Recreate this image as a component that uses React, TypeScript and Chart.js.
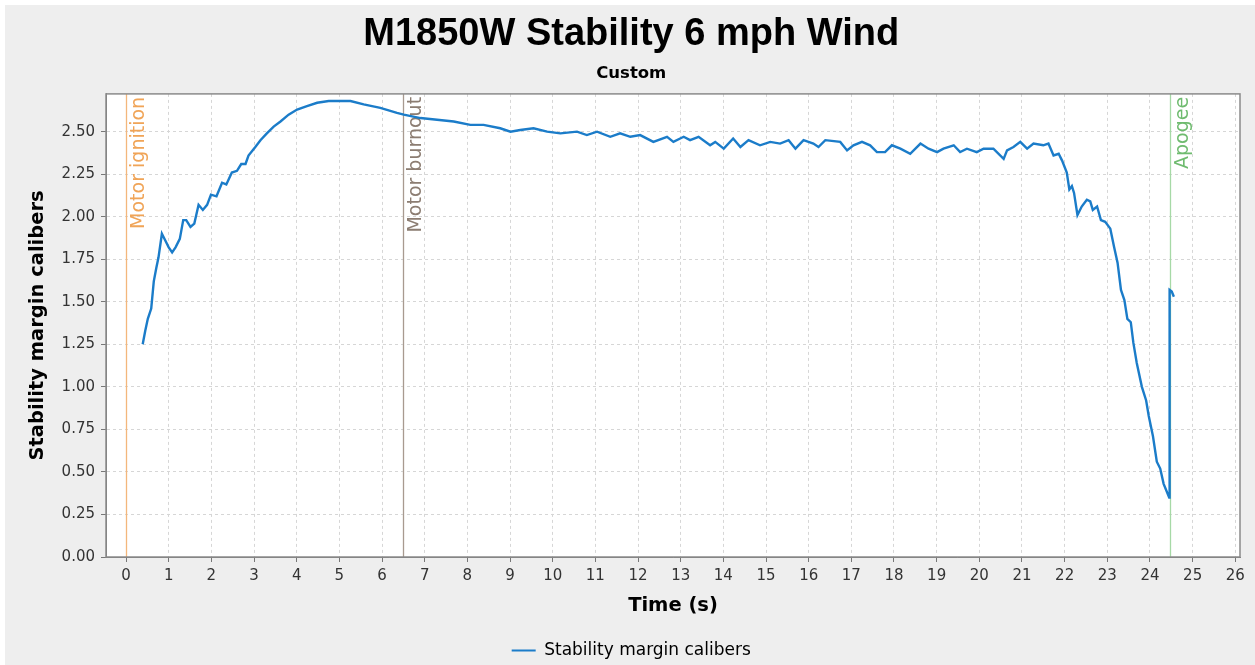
import { useEffect, useRef } from "react";
import { Chart, registerables } from "chart.js";

Chart.register(...registerables);

const chartTitle = "M1850W Stability 6 mph Wind";
const chartSubtitle = "Custom";
const seriesLabel = "Stability margin calibers";
const xAxisTitle = "Time (s)";
const yAxisTitle = "Stability margin calibers";

const timeS = [
  0.39, 0.45, 0.51, 0.59, 0.65, 0.71, 0.76, 0.84, 0.92, 1.0, 1.08, 1.16, 1.26, 1.34, 1.41, 1.51, 1.6, 1.7, 1.8, 1.9,
  1.99, 2.12, 2.25, 2.35, 2.48, 2.6, 2.7, 2.8, 2.87, 3.03, 3.15, 3.3, 3.46, 3.62, 3.81, 4.01, 4.24, 4.48, 4.75, 5.0,
  5.26, 5.57, 5.96, 6.35, 6.51, 6.9, 7.29, 7.68, 8.07, 8.38, 8.77, 9.01, 9.24, 9.55, 9.87, 10.18, 10.57, 10.8, 11.04,
  11.35, 11.58, 11.82, 12.05, 12.36, 12.68, 12.83, 13.07, 13.22, 13.42, 13.69, 13.81, 14.01, 14.23, 14.4, 14.59,
  14.86, 15.1, 15.33, 15.53, 15.69, 15.88, 16.11, 16.23, 16.39, 16.74, 16.9, 17.05, 17.25, 17.44, 17.6, 17.79, 17.95,
  18.15, 18.38, 18.62, 18.81, 19.01, 19.16, 19.4, 19.55, 19.71, 19.94, 20.1, 20.33, 20.57, 20.65, 20.8, 20.96, 21.12,
  21.27, 21.5, 21.62, 21.74, 21.86, 21.94, 22.05, 22.11, 22.17, 22.22, 22.3, 22.4, 22.52, 22.6, 22.66, 22.76, 22.85,
  22.95, 23.07, 23.16, 23.24, 23.32, 23.4, 23.47, 23.55, 23.61, 23.69, 23.81, 23.91, 23.97, 24.07, 24.16, 24.24,
  24.32, 24.45, 24.46, 24.51, 24.56,
];

const stability = [
  1.25, 1.33, 1.4, 1.46, 1.62, 1.7, 1.76, 1.9, 1.86, 1.82, 1.79, 1.82, 1.87, 1.98, 1.98, 1.94, 1.96, 2.07, 2.04, 2.07,
  2.13, 2.12, 2.2, 2.19, 2.26, 2.27, 2.31, 2.31, 2.36, 2.41, 2.45, 2.49, 2.53, 2.56, 2.6, 2.63, 2.65, 2.67, 2.68, 2.68,
  2.68, 2.66, 2.64, 2.61, 2.6, 2.58, 2.57, 2.56, 2.54, 2.54, 2.52, 2.5, 2.51, 2.52, 2.5, 2.49, 2.5, 2.48, 2.5,
  2.47, 2.49, 2.47, 2.48, 2.44, 2.47, 2.44, 2.47, 2.45, 2.47, 2.42, 2.44, 2.4, 2.46, 2.41, 2.45,
  2.42, 2.44, 2.43, 2.45, 2.4, 2.45, 2.43, 2.41, 2.45, 2.44, 2.39, 2.42, 2.44, 2.42, 2.38, 2.38, 2.42,
  2.4, 2.37, 2.43, 2.4, 2.38, 2.4, 2.42, 2.38, 2.4, 2.38, 2.4, 2.4, 2.34, 2.39, 2.41, 2.44, 2.4,
  2.43, 2.42, 2.43, 2.36, 2.37, 2.33, 2.26, 2.16, 2.18, 2.14, 2.01, 2.06, 2.1, 2.09, 2.04, 2.06, 1.98,
  1.97, 1.93, 1.82, 1.73, 1.57, 1.51, 1.4, 1.38, 1.26, 1.14, 1.0, 0.92, 0.83, 0.71, 0.56, 0.52,
  0.43, 0.35, 1.57, 1.56, 1.53,
];

const xTickValues = [0, 1, 2, 3, 4, 5, 6, 7, 8, 9, 10, 11, 12, 13, 14, 15, 16, 17, 18, 19, 20, 21, 22, 23, 24, 25, 26];
const yTickValues = [0, 0.25, 0.5, 0.75, 1.0, 1.25, 1.5, 1.75, 2.0, 2.25, 2.5];

const eventNames = ["Motor ignition", "Motor burnout", "Apogee"];
const eventTimes = [0, 6.5, 24.46];
const eventLineColors = ["#f3b77c", "#a89a90", "#a6d9a6"];
const eventTextColors = ["#f0a457", "#8c7d72", "#6fbb6f"];

const X_MIN = -0.47;
const X_MAX = 26.11;
const Y_MIN = 0;
const Y_MAX = 2.722;

const LINE_COLOR = "#1b7cc9";

export default function App() {
  const canvasRef = useRef<HTMLCanvasElement | null>(null);

  useEffect(() => {
    const canvas = canvasRef.current;
    if (!canvas) return;

    const backgroundPlugin = {
      id: "bgPlugin",
      beforeDraw(chart: any) {
        const { ctx, width, height, chartArea } = chart;
        ctx.save();
        ctx.fillStyle = "#ffffff";
        ctx.fillRect(0, 0, width, height);
        ctx.fillStyle = "#eeeeee";
        ctx.fillRect(5, 5, width - 5, height - 5);
        ctx.fillStyle = "#ffffff";
        ctx.fillRect(chartArea.left, chartArea.top, chartArea.right - chartArea.left, chartArea.bottom - chartArea.top);
        ctx.restore();
      },
    };

    const eventPlugin = {
      id: "eventPlugin",
      beforeDatasetsDraw(chart: any) {
        const { ctx, chartArea } = chart;
        const xs = chart.scales.x;
        ctx.save();
        for (let i = 0; i < eventNames.length; i++) {
          const px = Math.round(xs.getPixelForValue(eventTimes[i])) + 0.5;
          ctx.strokeStyle = eventLineColors[i];
          ctx.lineWidth = 1.3;
          ctx.beginPath();
          ctx.moveTo(px, chartArea.top);
          ctx.lineTo(px, chartArea.bottom);
          ctx.stroke();
          ctx.save();
          ctx.translate(px + 3.5, chartArea.top + 3);
          ctx.rotate(-Math.PI / 2);
          ctx.fillStyle = eventTextColors[i];
          ctx.font = "19px 'DejaVu Sans'";
          ctx.textAlign = "right";
          ctx.textBaseline = "top";
          ctx.fillText(eventNames[i], 0, 0);
          ctx.restore();
        }
        ctx.restore();
      },
    };

    const framePlugin = {
      id: "framePlugin",
      afterDraw(chart: any) {
        const { ctx, chartArea } = chart;
        ctx.save();
        ctx.strokeStyle = "#8a8a8a";
        ctx.lineWidth = 1.5;
        ctx.strokeRect(chartArea.left, chartArea.top, chartArea.right - chartArea.left, chartArea.bottom - chartArea.top);
        ctx.restore();
      },
    };

    const tickFont = { family: "'DejaVu Sans'", size: 15 };

    const chart = new Chart(canvas, {
      type: "line",
      data: {
        datasets: [
          {
            label: seriesLabel,
            data: timeS.map((t, i) => ({ x: t, y: stability[i] })),
            borderColor: LINE_COLOR,
            backgroundColor: LINE_COLOR,
            borderWidth: 2.4,
            pointRadius: 0,
            tension: 0,
            fill: false,
          },
        ],
      },
      options: {
        responsive: false,
        animation: false,
        events: [],
        layout: { padding: { left: 7.5, right: 0, top: 0, bottom: -4 } },
        plugins: {
          title: {
            display: true,
            text: chartTitle,
            color: "#000000",
            font: { family: "'Liberation Sans'", size: 38, weight: "bold" },
            padding: { top: 12, bottom: 1 },
          },
          subtitle: {
            display: true,
            text: chartSubtitle,
            color: "#000000",
            font: { family: "'DejaVu Sans'", size: 16.5, weight: "bold" },
            padding: { top: 5.5, bottom: 10 },
          },
          legend: {
            display: true,
            position: "bottom",
            labels: {
              color: "#222222",
              font: { family: "'DejaVu Sans'", size: 17 },
              boxWidth: 24,
              boxHeight: 2,
              padding: 10,
              generateLabels: (c: any) =>
                c.data.datasets.map((ds: any, i: number) => ({
                  text: ds.label,
                  fillStyle: ds.borderColor,
                  strokeStyle: ds.borderColor,
                  lineWidth: 0,
                  hidden: false,
                  datasetIndex: i,
                })),
            },
          },
          tooltip: { enabled: false },
        },
        scales: {
          x: {
            type: "linear",
            min: X_MIN,
            max: X_MAX,
            afterBuildTicks: (s: any) => {
              s.ticks = xTickValues.map((v) => ({ value: v }));
            },
            afterFit: (s: any) => {
              s.height = 75;
            },
            ticks: {
              font: tickFont,
              color: "#333333",
              padding: 5,
              maxRotation: 0,
              autoSkip: false,
              callback: (v: any) => String(v),
            },
            grid: { color: "#d6d6d6", lineWidth: 1, tickColor: "#777777", tickLength: 5, tickWidth: 1 },
            border: { display: true, color: "#777777", width: 1, dash: [3, 3] },
            title: {
              display: true,
              text: xAxisTitle,
              color: "#000000",
              font: { family: "'DejaVu Sans'", size: 19.5, weight: "bold" },
              padding: { top: 4, bottom: 14 },
            },
          },
          y: {
            type: "linear",
            min: Y_MIN,
            max: Y_MAX,
            afterBuildTicks: (s: any) => {
              s.ticks = yTickValues.map((v) => ({ value: v }));
            },
            afterFit: (s: any) => {
              s.width = 98.5;
            },
            ticks: {
              font: tickFont,
              color: "#333333",
              padding: 6,
              callback: (v: any) => Number(v).toFixed(2),
            },
            grid: { color: "#d6d6d6", lineWidth: 1, tickColor: "#777777", tickLength: 5, tickWidth: 1 },
            border: { display: true, color: "#777777", width: 1, dash: [3, 3] },
            title: {
              display: true,
              text: yAxisTitle,
              color: "#000000",
              font: { family: "'DejaVu Sans'", size: 19.5, weight: "bold" },
              padding: { top: 18.8, bottom: 0 },
            },
          },
          y2: {
            type: "linear",
            position: "right",
            display: true,
            grid: { display: false, drawTicks: false },
            ticks: { display: false },
            border: { display: false },
            afterFit: (s: any) => {
              s.width = 15;
            },
          },
        },
      },
      plugins: [backgroundPlugin, eventPlugin, framePlugin],
    } as any);

    return () => {
      chart.destroy();
    };
  }, []);

  return (
    <div style={{ position: "fixed", left: 0, top: 0, width: 1255, height: 665 }}>
      <canvas ref={canvasRef} width={1255} height={665} style={{ display: "block" }} />
    </div>
  );
}
